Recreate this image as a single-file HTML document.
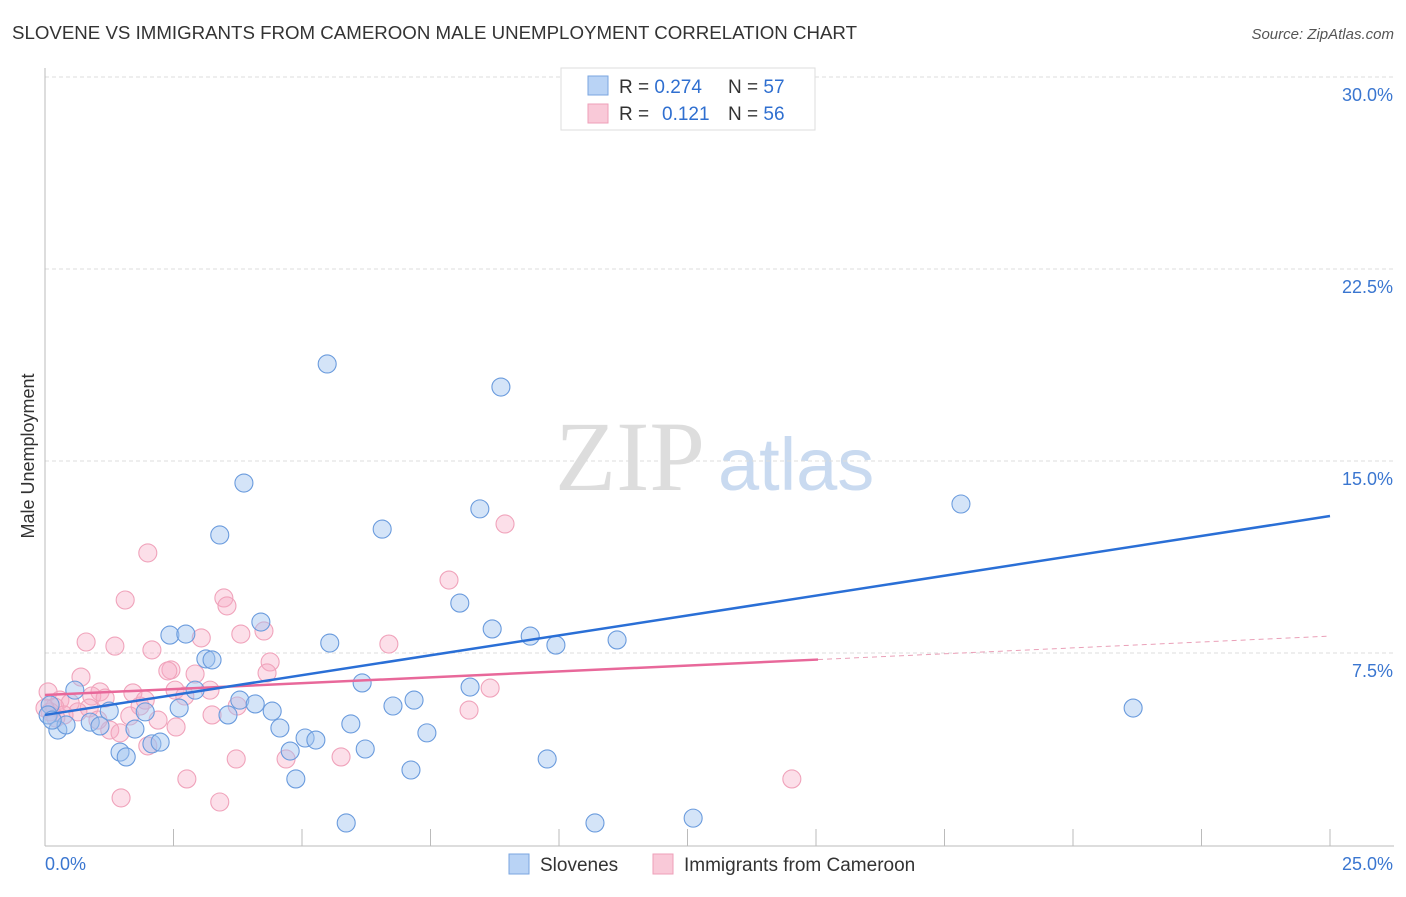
<!DOCTYPE html>
<html><head><meta charset="utf-8"><style>
body{margin:0;background:#fff;font-family:"Liberation Sans",sans-serif;}
</style></head><body>
<svg id="c" width="1406" height="892" xmlns="http://www.w3.org/2000/svg">
<text x="12" y="39" font-size="18" fill="#333" textLength="845" lengthAdjust="spacingAndGlyphs">SLOVENE VS IMMIGRANTS FROM CAMEROON MALE UNEMPLOYMENT CORRELATION CHART</text>
<text x="1394" y="39" font-size="15" fill="#555" font-style="italic" text-anchor="end">Source: ZipAtlas.com</text>
<text x="34" y="456" font-size="18" fill="#333" text-anchor="middle" transform="rotate(-90 34 456)">Male Unemployment</text>
<text x="555" y="490" font-size="100" fill="#ddd" font-family="Liberation Serif,serif">ZIP</text>
<text x="718" y="490" font-size="74" fill="#c9daf0">atlas</text>
<g id="axes"></g><g id="marks"></g>
<g>
<rect x="561" y="68" width="254" height="62" fill="#fff" stroke="#ddd"/>
<rect x="588" y="76" width="20" height="19" fill="#b9d3f5" stroke="#7aa6e0"/>
<rect x="588" y="104" width="20" height="19" fill="#f9c9d8" stroke="#ee9fb8"/>
<text x="619" y="93" font-size="19" fill="#333">R = <tspan fill="#2f6fd0">0.274</tspan><tspan x="728">N = </tspan><tspan fill="#2f6fd0">57</tspan></text>
<text x="619" y="120" font-size="19" fill="#333">R = <tspan x="662" fill="#2f6fd0">0.121</tspan><tspan x="728">N = </tspan><tspan fill="#2f6fd0">56</tspan></text>
</g>
<g>
<rect x="509" y="854" width="20" height="20" fill="#b9d3f5" stroke="#7aa6e0"/>
<text x="540" y="871" font-size="19" fill="#333">Slovenes</text>
<rect x="653" y="854" width="20" height="20" fill="#f9c9d8" stroke="#ee9fb8"/>
<text x="684" y="871" font-size="19" fill="#333">Immigrants from Cameroon</text>
</g>
</svg>
<script>
const blueX=[5.49,8.87,3.87,3.40,6.56,8.46,17.82,8.07,4.20,8.70,5.54,9.44,9.94,11.13,2.43,2.74,3.13,3.25,6.17,8.27,2.92,0.58,3.79,7.18,6.77,4.09,2.61,3.56,4.42,1.25,1.95,21.17,0.10,5.95,4.57,7.43,0.88,1.07,1.75,0.25,0.41,5.06,5.27,4.77,6.23,2.08,2.24,1.46,1.58,9.77,7.12,4.88,5.86,10.70,12.61,0.06,0.14];
const blueY=[18.79,17.89,14.14,12.11,12.34,13.13,13.32,9.45,8.71,8.44,7.89,8.16,7.81,8.01,8.20,8.24,7.27,7.23,6.33,6.17,6.05,6.05,5.66,5.66,5.43,5.51,5.35,5.08,5.23,5.23,5.20,5.35,5.47,4.73,4.57,4.38,4.80,4.65,4.53,4.49,4.69,4.18,4.10,3.67,3.75,3.95,4.02,3.63,3.44,3.36,2.93,2.58,0.86,0.86,1.05,5.08,4.88];
const pinkX=[2.00,8.95,7.86,1.56,3.48,3.54,0.80,1.36,3.04,3.81,4.26,6.69,2.08,2.45,2.92,4.38,4.32,0.70,3.21,8.66,1.71,1.07,0.91,1.17,0.06,0.29,0.49,0.19,1.85,2.53,2.20,1.65,3.25,3.74,0.86,0.64,0.37,1.26,1.46,2.55,2.00,4.69,5.76,3.72,8.25,2.76,14.53,1.48,3.40,1.95,0.10,0.00,0.21,1.03,2.72,2.39];
const pinkY=[11.41,12.54,10.35,9.57,9.65,9.34,7.93,7.77,8.09,8.24,8.36,7.85,7.62,6.84,6.68,7.15,6.72,6.56,6.05,6.13,5.94,5.98,5.82,5.74,5.98,5.66,5.55,5.39,5.43,6.05,4.88,5.04,5.08,5.43,5.35,5.20,5.08,4.49,4.38,4.61,3.87,3.36,3.44,3.36,5.27,2.58,2.58,1.84,1.68,5.66,5.20,5.35,4.96,4.88,5.82,6.80];
const yTicks=[7.5,15,22.5,30];
const yTickLabels=["7.5%","15.0%","22.5%","30.0%"];
const blueTrend=[5.08,12.85];
const pinkTrend=[5.86,8.16];
const pinkSolidEnd=15.04;
const NS="http://www.w3.org/2000/svg";
const sx=v=>45+v*51.4, sy=v=>845-v*25.6;
function mk(tag,at,parent){const e=document.createElementNS(NS,tag);for(const k in at)e.setAttribute(k,at[k]);parent.appendChild(e);return e;}
const ax=document.getElementById('axes'), mg=document.getElementById('marks');
yTicks.forEach((t,i)=>{
 const g=mk('line',{x1:45,x2:1394,y1:sy(t),y2:sy(t),stroke:'#ddd','stroke-dasharray':'4 3'},ax);
 
 
 const l=mk('text',{x:1393,y:sy(t)+24,'font-size':18,fill:'#3a76d0','text-anchor':'end'},ax);l.textContent=yTickLabels[i];
 
 
});
const yl=mk('line',{x1:45,x2:45,y1:68,y2:846,stroke:'#bbb'},ax);


const xl=mk('line',{x1:45,x2:1394,y1:846,y2:846,stroke:'#bbb'},ax);


for(let i=1;i<=10;i++){const t=mk('line',{x1:sx(i*2.5),x2:sx(i*2.5),y1:829,y2:846,stroke:'#bbb'},ax);
 
 }
const x0=mk('text',{x:45,y:870,'font-size':18,fill:'#3a76d0'},ax);x0.textContent='0.0%';


const x1=mk('text',{x:1393,y:870,'font-size':18,fill:'#3a76d0','text-anchor':'end'},ax);x1.textContent='25.0%';


pinkX.forEach((x,i)=>{const c=mk('circle',{cx:sx(x),cy:sy(pinkY[i]),r:9,fill:'rgba(246,170,196,0.38)',stroke:'#f0a3bb','stroke-width':1.1},mg);
 
 });
blueX.forEach((x,i)=>{const c=mk('circle',{cx:sx(x),cy:sy(blueY[i]),r:9,fill:'rgba(160,196,240,0.45)',stroke:'#6a9bdd','stroke-width':1.1},mg);
 
 });
const pd=mk('line',{x1:sx(pinkSolidEnd),y1:sy(pinkTrend[0]+(pinkTrend[1]-pinkTrend[0])*pinkSolidEnd/25),x2:sx(25),y2:sy(pinkTrend[1]),stroke:'#eaa0b8','stroke-dasharray':'5 4','stroke-width':1},mg);


const pl=mk('line',{x1:sx(0),y1:sy(pinkTrend[0]),x2:sx(pinkSolidEnd),y2:sy(pinkTrend[0]+(pinkTrend[1]-pinkTrend[0])*pinkSolidEnd/25),stroke:'#e8689a','stroke-width':2.5},mg);


const bl=mk('line',{x1:sx(0),y1:sy(blueTrend[0]),x2:sx(25),y2:sy(blueTrend[1]),stroke:'#2a6fd6','stroke-width':2.5},mg);


</script>
</body></html>
